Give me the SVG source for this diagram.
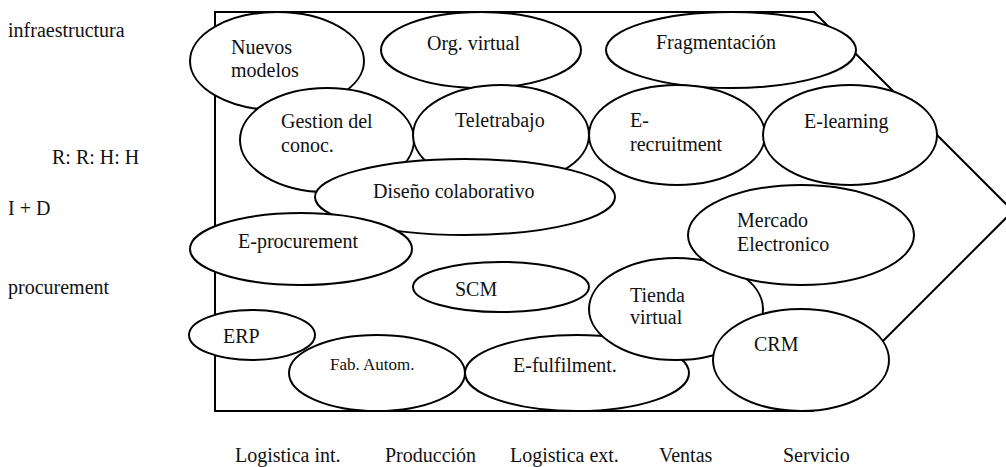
<svg xmlns="http://www.w3.org/2000/svg" width="1006" height="467" viewBox="0 0 1006 467" font-family="'Liberation Serif', 'DejaVu Serif', serif">
<style>
text{font-family:'Liberation Serif','DejaVu Serif',serif;font-size:20px;fill:#111}
.s{font-size:17px}
ellipse{fill:#fff;stroke:#000;stroke-width:2}
.frame{fill:none;stroke:#000;stroke-width:2}
</style>
<rect width="1006" height="467" fill="#fff"/>
<g id="labels">
<text x="8" y="37">infraestructura</text>
<text x="52" y="164">R: R: H: H</text>
<text x="8" y="215">I + D</text>
<text x="8" y="294">procurement</text>
<text x="235" y="462">Logistica int.</text>
<text x="385" y="462">Producción</text>
<text x="510" y="462">Logistica ext.</text>
<text x="659" y="462">Ventas</text>
<text x="783" y="462">Servicio</text>
</g>
<g id="frame"><polygon class="frame" points="215,12 814,12 1013,211 813,411 215,411"/></g>
<g id="connectors"></g>
<g id="nuevos-modelos"><ellipse cx="277" cy="61" rx="87" ry="49"/><text x="231" y="54">Nuevos</text><text x="231" y="77">modelos</text></g>
<g id="org-virtual"><ellipse cx="481" cy="50" rx="100" ry="38"/><text x="427" y="50">Org. virtual</text></g>
<g id="fragmentacion"><ellipse cx="731" cy="50" rx="125" ry="38"/><text x="656" y="49">Fragmentación</text></g>
<g id="gestion"><ellipse cx="327" cy="140" rx="87" ry="52"/><text x="281" y="128">Gestion del</text><text x="281" y="152">conoc.</text></g>
<g id="teletrabajo"><ellipse cx="501" cy="135" rx="88" ry="50"/><text x="455" y="127">Teletrabajo</text></g>
<g id="e-recruitment"><ellipse cx="677" cy="135" rx="88" ry="50"/><text x="630" y="127">E-</text><text x="630" y="151">recruitment</text></g>
<g id="e-learning"><ellipse cx="850" cy="135" rx="87" ry="50"/><text x="804" y="128">E-learning</text></g>
<g id="diseno"><ellipse cx="465" cy="197" rx="150" ry="38"/><text x="373" y="198">Diseño colaborativo</text></g>
<g id="e-procurement"><ellipse cx="301" cy="249" rx="111" ry="36"/><text x="238" y="248">E-procurement</text></g>
<g id="scm"><ellipse cx="501" cy="287" rx="88" ry="25"/><text x="455" y="296">SCM</text></g>
<g id="fab-autom"><ellipse cx="377" cy="373" rx="88" ry="38"/><text class="s" x="330" y="370">Fab. Autom.</text></g>
<g id="erp"><ellipse cx="252" cy="335" rx="63" ry="25"/><text x="223" y="343">ERP</text></g>
<g id="e-fulfilment"><ellipse cx="577" cy="373" rx="112" ry="38"/><text x="513" y="372">E-fulfilment.</text></g>
<g id="tienda-virtual"><ellipse cx="676" cy="309" rx="87" ry="51"/><text x="630" y="302">Tienda</text><text x="630" y="324">virtual</text></g>
<g id="mercado"><ellipse cx="801" cy="235" rx="113" ry="50"/><text x="737" y="227">Mercado</text><text x="737" y="251">Electronico</text></g>
<g id="crm"><ellipse cx="801" cy="360" rx="88" ry="51"/><text x="754" y="351">CRM</text></g>
</svg>
